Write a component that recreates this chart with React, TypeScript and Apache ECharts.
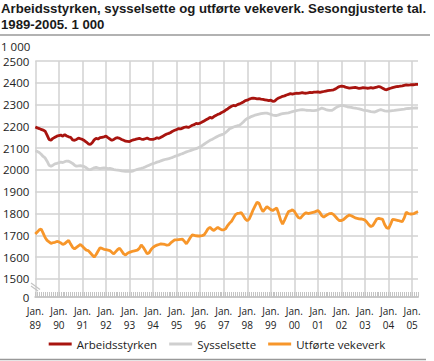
import React, { useEffect, useRef } from "react";
import * as echarts from "echarts";

// Monthly values, Jan 1989 – Apr 2005 (1 000 persons / weekly work units)
const arbeidsstyrken: number[] = [
  // 1989
  2197, 2193, 2190, 2186, 2183, 2178, 2160, 2140, 2136, 2145, 2150, 2155,
  // 1990
  2158, 2160, 2155, 2162, 2156, 2152, 2150, 2138, 2136, 2140, 2146, 2143,
  // 1991
  2140, 2135, 2128, 2120, 2117, 2125, 2138, 2145, 2142, 2148, 2150, 2152,
  // 1992
  2155, 2148, 2142, 2136, 2140, 2146, 2148, 2145, 2140, 2136, 2132, 2131,
  // 1993
  2130, 2135, 2138, 2140, 2143, 2145, 2142, 2140, 2143, 2146, 2142, 2140,
  // 1994
  2140, 2143, 2148, 2145, 2150, 2155, 2160, 2165, 2168, 2172, 2178, 2182,
  // 1995
  2185, 2190, 2188, 2192, 2196, 2198, 2195, 2200, 2205, 2208, 2214, 2212,
  // 1996
  2215, 2220, 2225, 2230, 2235, 2241, 2238, 2245, 2250, 2255, 2258, 2264,
  // 1997
  2268, 2275, 2280, 2287, 2292, 2296, 2294, 2300, 2303, 2307, 2312, 2318,
  // 1998
  2320, 2325, 2328, 2330, 2328, 2326, 2327, 2325, 2324, 2322, 2320, 2318,
  // 1999
  2320, 2315, 2316, 2325, 2330, 2334, 2338, 2340, 2344, 2347, 2350, 2348,
  // 2000
  2350, 2352, 2351, 2353, 2355, 2353, 2352, 2354, 2356, 2355, 2357, 2357,
  // 2001
  2358, 2356, 2358, 2360, 2362, 2364, 2365, 2366, 2368, 2372, 2378, 2383,
  // 2002
  2385, 2384, 2380, 2378, 2376, 2377, 2378, 2379, 2377, 2374, 2376, 2378,
  // 2003
  2377, 2375, 2376, 2378, 2376, 2378, 2380, 2383, 2380, 2375, 2370, 2368,
  // 2004
  2372, 2375, 2378, 2380, 2382, 2383, 2385, 2386, 2388, 2390, 2389, 2390,
  // 2005
  2392, 2391, 2393, 2393,
];

const sysselsette: number[] = [
  // 1989
  2087, 2085, 2080, 2072, 2062, 2055, 2040, 2022, 2017, 2022, 2028, 2030,
  // 1990
  2033, 2036, 2034, 2038, 2041, 2040, 2035, 2030, 2022, 2017, 2019, 2020,
  // 1991
  2018, 2015, 2010, 2003, 2001, 2005, 2010, 2012, 2009, 2006, 2008, 2009,
  // 1992
  2008, 2006, 2007, 2005, 2002, 2000, 1999, 1998, 1996, 1995, 1994, 1994,
  // 1993
  1994, 1993, 1996, 2000, 2003, 2005, 2007, 2010, 2014, 2018, 2022, 2026,
  // 1994
  2029, 2032, 2036, 2038, 2042, 2045, 2048, 2050, 2052, 2055, 2058, 2062,
  // 1995
  2065, 2068, 2072, 2075, 2079, 2083, 2086, 2089, 2092, 2095, 2098, 2102,
  // 1996
  2106, 2112, 2118, 2124, 2130, 2136, 2140, 2145, 2150, 2155, 2159, 2162,
  // 1997
  2165, 2172, 2180, 2189, 2193, 2197, 2200, 2203, 2205, 2212, 2220, 2230,
  // 1998
  2236, 2240, 2245, 2248, 2252, 2254, 2256, 2258, 2260, 2261, 2261, 2258,
  // 1999
  2255, 2252, 2250, 2250, 2253, 2256, 2258, 2260, 2261, 2262, 2265, 2268,
  // 2000
  2270, 2272, 2274, 2276, 2277, 2276, 2274, 2273, 2273, 2272, 2272, 2273,
  // 2001
  2276, 2280, 2284, 2281, 2277, 2275, 2273, 2273, 2278, 2285, 2290, 2294,
  // 2002
  2296, 2295, 2293, 2290, 2288, 2287, 2285, 2284, 2282, 2280, 2278, 2275,
  // 2003
  2273, 2272, 2270, 2268, 2267, 2266, 2270, 2274, 2277, 2274, 2271, 2270,
  // 2004
  2270, 2271, 2272, 2273, 2275, 2276, 2277, 2278, 2279, 2281, 2282, 2283,
  // 2005
  2284, 2284, 2285, 2284,
];

const utforteVekeverk: number[] = [
  // 1989
  1706, 1715, 1725, 1729, 1710, 1690, 1677, 1670, 1663, 1666, 1668, 1672,
  // 1990
  1670, 1665, 1658, 1662, 1670, 1677, 1660, 1645, 1638, 1645, 1652, 1658,
  // 1991
  1650, 1640, 1632, 1630, 1620, 1610, 1600, 1612, 1628, 1643, 1640, 1636,
  // 1992
  1634, 1632, 1630, 1622, 1615, 1625, 1635, 1641, 1628, 1615, 1610, 1618,
  // 1993
  1622, 1625, 1628, 1630, 1632, 1640, 1656, 1645, 1630, 1615, 1620, 1635,
  // 1994
  1645, 1651, 1655, 1658, 1661, 1660, 1658, 1655, 1656, 1665, 1672, 1679,
  // 1995
  1679, 1680, 1681, 1682, 1672, 1661, 1675, 1690, 1702, 1700, 1698, 1697,
  // 1996
  1697, 1699, 1702, 1715, 1730, 1737, 1728, 1722, 1730, 1737, 1730, 1725,
  // 1997
  1725, 1730, 1745, 1756, 1765, 1780, 1795, 1801, 1802, 1804, 1790, 1775,
  // 1998
  1767, 1775, 1795, 1817, 1835, 1852, 1847, 1825, 1809, 1820, 1832, 1825,
  // 1999
  1818, 1814, 1820, 1825, 1800, 1770, 1752, 1770, 1790, 1809, 1812, 1817,
  // 2000
  1810, 1795, 1782, 1778, 1788, 1798, 1804, 1800, 1802, 1804, 1806, 1810,
  // 2001
  1814, 1805, 1790, 1783, 1790, 1796, 1800, 1801, 1795, 1785, 1775, 1767,
  // 2002
  1768, 1772, 1780, 1788, 1793, 1790, 1785, 1780, 1778, 1776, 1775, 1773,
  // 2003
  1770, 1760, 1748, 1740, 1745, 1760, 1775, 1778, 1776, 1773, 1750, 1735,
  // 2004
  1731, 1750, 1773, 1772, 1770, 1768, 1765, 1763, 1780, 1806, 1800, 1798,
  // 2005
  1798, 1800, 1805, 1809,
];

const seriesNames = ["Arbeidsstyrken", "Sysselsette", "Utførte vekeverk"];
const seriesColors = ["#a8140f", "#cfcfcf", "#f7962a"];
const startYear = 1989;
const monthCount = arbeidsstyrken.length;
const months: string[] = Array.from({ length: monthCount }, (_, i) => {
  const y = startYear + Math.floor(i / 12);
  const m = (i % 12) + 1;
  return `${y}-${m < 10 ? "0" + m : m}`;
});
const firstTick = 1500;
const breakBottom = 1417; // axis bottom, labelled "0" (broken axis)
const unitLabel = "1 000";

const titleText =
  "Arbeidsstyrken, sysselsette og utførte vekeverk. Sesongjusterte tal.\n1989-2005. 1 000";

export default function App() {
  const ref = useRef<HTMLDivElement>(null);
  useEffect(() => {
    if (!ref.current) return;
    const chart = echarts.init(ref.current, undefined, { renderer: "svg" });
    const font = "Open Sans";
    const isJan = (idx: number) => idx % 12 === 0;
    chart.setOption({
      animation: false,
      backgroundColor: "#ffffff",
      title: {
        text: titleText,
        left: 1,
        top: 0,
        padding: 0,
        textStyle: {
          fontFamily: "Liberation Sans",
          fontWeight: "bold",
          fontSize: 13.2,
          lineHeight: 16.6,
          color: "#1a1a1a",
        },
      },
      legend: {
        bottom: 6,
        left: "center",
        icon: "rect",
        itemWidth: 23,
        itemHeight: 3,
        itemGap: 12,
        data: seriesNames,
        textStyle: { fontFamily: font, fontSize: 11.5, color: "#222" },
      },
      grid: { left: 34, right: 16, top: 61, bottom: 64 },
      xAxis: {
        type: "category",
        data: months,
        boundaryGap: false,
        axisLine: { show: true, lineStyle: { color: "#c8c8c8", width: 2 } },
        axisTick: {
          show: true,
          interval: 0,
          inside: true,
          length: 5,
          lineStyle: { color: "#c4c4c4", width: 1 },
        },
        axisLabel: {
          interval: (idx: number) => isJan(idx),
          formatter: (v: string) => "Jan.\n" + v.slice(2, 4),
          fontFamily: font,
          fontSize: 10,
          lineHeight: 14,
          color: "#222",
          margin: 7,
        },
        splitLine: {
          show: true,
          interval: (idx: number) => isJan(idx),
          lineStyle: { color: "#d2d2d2", width: 1.5 },
        },
      },
      yAxis: {
        type: "value",
        min: breakBottom,
        max: 2500,
        splitNumber: 10,
        axisLine: { show: false },
        axisTick: { show: false },
        axisLabel: {
          fontFamily: font,
          fontSize: 11.5,
          color: "#222",
          margin: 6,
          formatter: (v: number) =>
            v < firstTick ? "0" : String(Math.round(v)),
        },
        splitLine: { show: true, lineStyle: { color: "#d2d2d2", width: 1.5 } },
      },
      series: [arbeidsstyrken, sysselsette, utforteVekeverk].map((d, i) => ({
        name: seriesNames[i],
        type: "line",
        data: d,
        showSymbol: false,
        symbol: "none",
        color: seriesColors[i],
        lineStyle: { width: 2.8, color: seriesColors[i] },
        z: 3 - i + 2,
      })),
      graphic: [
        {
          type: "text",
          left: 1,
          top: 40,
          style: {
            text: unitLabel,
            fontFamily: font,
            fontSize: 11.5,
            fill: "#222",
          },
        },
        {
          type: "line",
          z: 10,
          shape: { x1: 0, y1: 35, x2: 430, y2: 35 },
          style: { stroke: "#999999", lineWidth: 1.6 },
        },
        {
          type: "line",
          z: 10,
          shape: { x1: 0, y1: 359.5, x2: 426, y2: 359.5 },
          style: { stroke: "#999999", lineWidth: 1.6 },
        },
        {
          type: "line",
          z: 10,
          shape: { x1: 31, y1: 283, x2: 40, y2: 289.5 },
          style: { stroke: "#c4c4c4", lineWidth: 1.2 },
        },
        {
          type: "line",
          z: 10,
          shape: { x1: 31, y1: 286, x2: 38, y2: 291 },
          style: { stroke: "#c4c4c4", lineWidth: 1.2 },
        },
      ],
    });
    return () => chart.dispose();
  }, []);
  return (
    <div
      ref={ref}
      style={{ position: "fixed", left: 0, top: 0, width: 434, height: 361 }}
    />
  );
}
